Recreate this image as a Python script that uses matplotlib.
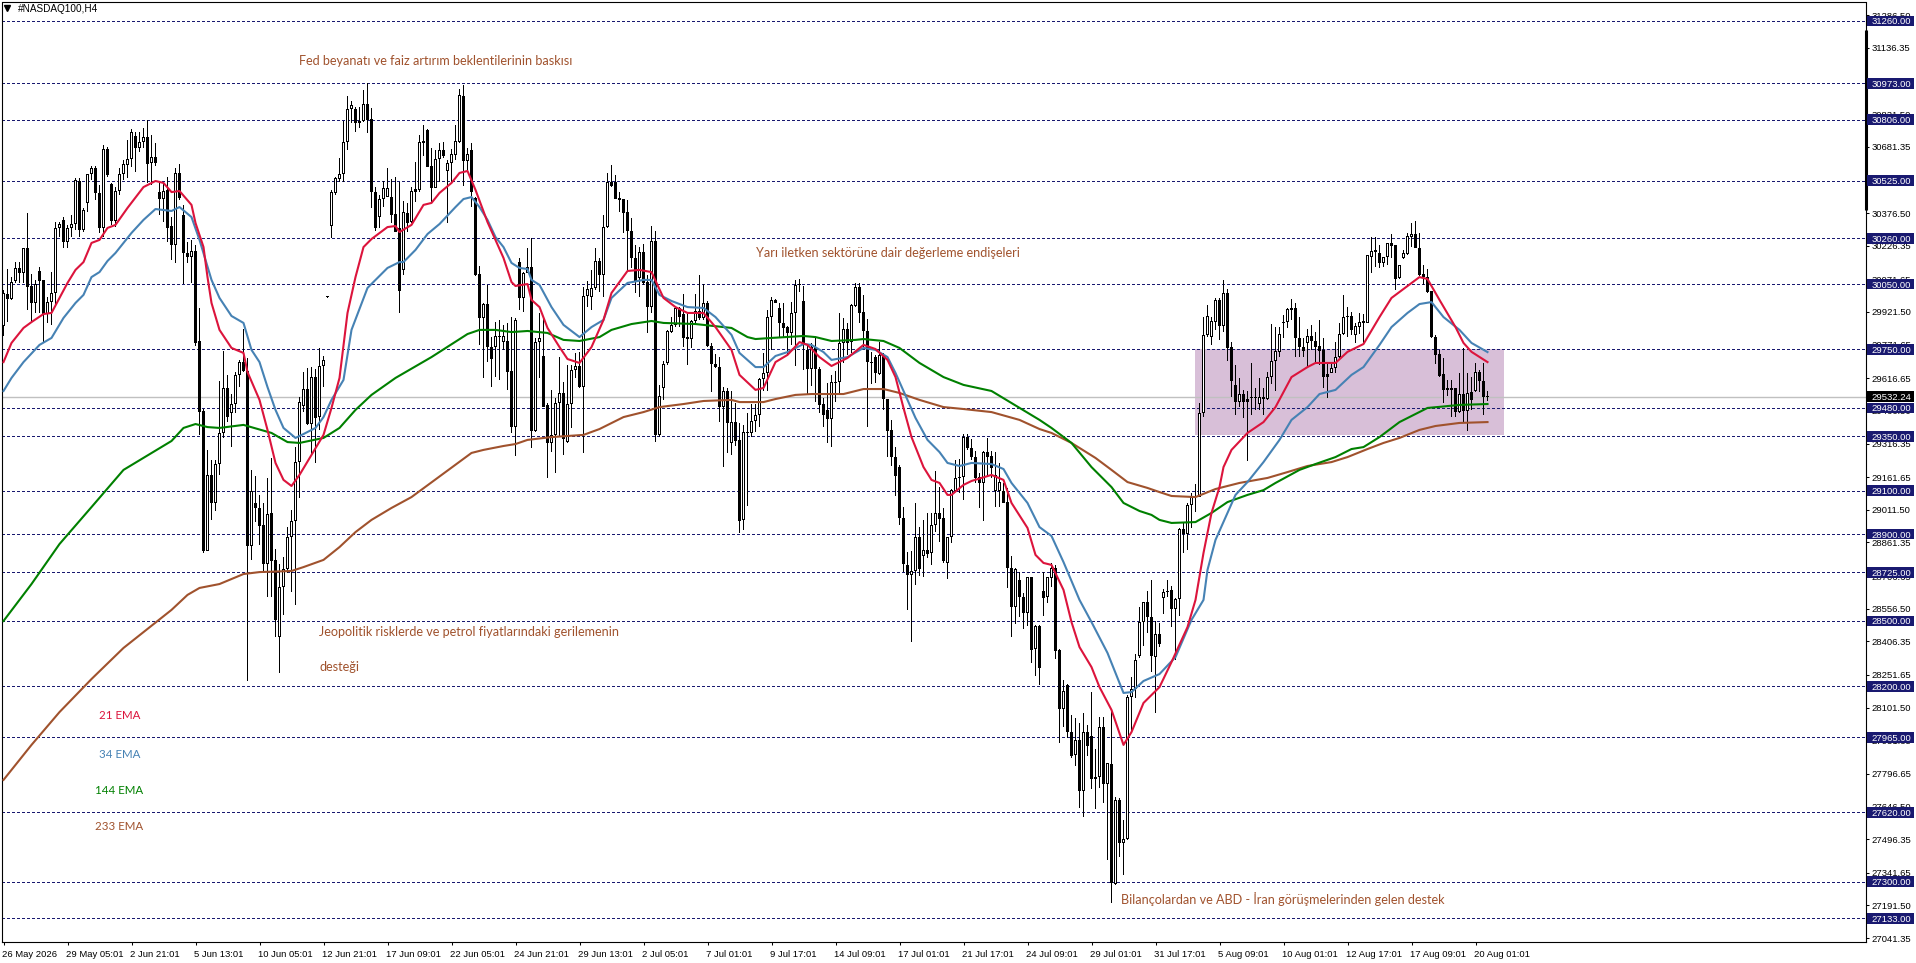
import matplotlib
matplotlib.use('Agg')
import matplotlib.pyplot as plt
from matplotlib.patches import Rectangle
from matplotlib.transforms import ScaledTranslation
import numpy as np

# mumlar (H4), soldan saga
opens = [29855,30004,29983,30066,30122,30102,30214,30041,29961,30109,
30069,29912,29969,30007,30306,30345,30245,30306,30326,30526,
30299,30421,30555,30582,30467,30306,30671,30510,30342,30477,
30555,30596,30624,30731,30674,30702,30725,30605,30633,30473,
30441,30483,30317,30231,30559,30368,30195,30176,30204,29788,
29466,28824,29170,29044,29221,29363,29570,29458,29498,29630,
29690,29652,28845,29041,29021,28940,28762,28995,28781,28425,
28655,28738,28885,28959,29230,29491,29566,29406,29622,29437,
29673,29990,30319,30470,30535,30555,30702,30854,30855,30789,
30802,30878,30808,30475,30357,30440,30452,30452,30371,30306,
30115,30378,30337,30475,30483,30700,30759,30593,30493,30624,
30667,30572,30608,30644,30705,30915,30618,30667,30447,30096,
29892,29958,29762,29762,29811,29785,29788,29650,29394,30153,
29987,30099,30130,29376,29782,29719,29494,29321,29354,29501,
29547,29325,29497,29655,29673,29575,29995,29989,30030,30156,
30090,30311,30521,30521,30444,30440,30380,30294,30168,30076,
30199,30061,29946,30248,29356,29570,29686,29831,29862,29938,
29912,29805,29796,29882,29928,29892,29961,29767,29681,29670,
29483,29558,29320,29414,29333,28965,29371,29366,29419,29446,
29612,29639,29897,29975,29938,29869,29851,29826,29915,30050,
29970,29747,29658,29762,29658,29497,29471,29428,29598,29598,
29777,29842,29785,29951,30035,29921,29836,29690,29713,29636,
29722,29520,29379,29253,29207,28972,28758,28712,28732,28885,
28801,28827,28812,28942,28995,28972,28766,28885,29100,29156,
29164,29348,29294,29256,29161,29133,29276,29261,29100,29100,
29100,29046,28742,28566,28689,28609,28535,28701,28370,28477,
28637,28609,28698,28742,28367,28094,28206,27991,27884,27953,
27720,27988,27971,27781,27781,28011,27749,27841,27290,27677,
27478,27499,28152,28186,28339,28494,28589,28520,28336,28440,
28604,28638,28643,28554,28601,28922,28900,29032,29069,29072,
29455,29816,29805,29877,29977,29859,30007,29759,29584,29509,
29543,29509,29529,29529,29497,29529,29523,29621,29696,29739,
29872,29875,29938,29938,29800,29759,29780,29813,29788,29765,
29747,29624,29642,29662,29716,29820,29903,29903,29816,29854,
29880,29872,30176,30207,30194,30148,30173,30237,30230,30076,
30168,30188,30268,30280,30216,30095,30084,30018,29808,29728,
29636,29570,29570,29570,29460,29543,29468,29555,29558,29647,29606,29535]

highs = [30023,30118,30084,30153,30153,30214,30375,30095,30069,30130,
30069,29992,30107,30337,30337,30360,30322,30368,30536,30536,
30398,30555,30593,30593,30506,30690,30682,30516,30498,30582,
30621,30713,30763,30751,30751,30766,30805,30736,30697,30521,
30521,30541,30360,30582,30602,30414,30245,30253,30230,29938,
29474,29287,29241,29241,29604,29742,29632,29543,29647,29701,
29843,29708,29195,29167,29080,29041,29159,29248,28831,28761,
28796,28934,29011,29302,29532,29647,29662,29667,29658,29754,
29719,29992,30483,30544,30628,30802,30915,30892,30866,30863,
30943,30973,30858,30495,30460,30526,30582,30532,30541,30521,
30434,30424,30495,30613,30736,30782,30762,30674,30667,30697,
30705,30621,30670,30782,30946,30966,30674,30699,30452,30133,
29964,30046,29808,29877,29885,29862,29869,29900,29892,30168,
30107,30214,30260,29800,29915,29892,29501,29563,29524,29713,
29601,29678,29678,29731,29739,30035,30066,30115,30214,30168,
30368,30559,30598,30552,30475,30440,30437,30352,30230,30222,
30233,30092,30317,30294,29586,29696,29839,29897,29946,29946,
30004,29915,29885,30004,30092,30049,29974,29778,29728,29713,
29578,29570,29558,29501,29409,29402,29455,29498,29498,29616,
29731,29931,29992,29980,29961,29964,29857,29969,30069,30072,
30041,29765,29777,29800,29670,29524,29593,29632,29650,29915,
29892,29872,29958,30056,30056,29999,29888,29739,29724,29785,
29731,29520,29425,29302,29218,29023,28819,28822,29041,28934,
28965,28995,28995,29192,29118,29018,28888,29106,29241,29244,
29360,29360,29337,29284,29179,29284,29340,29284,29279,29225,
29133,29110,28799,28742,28727,28627,28704,28704,28482,28482,
28727,28704,28765,28758,28370,28229,28209,28068,28052,28029,
28075,28022,28172,27910,28060,28060,27848,28094,27692,27684,
27585,28160,28244,28348,28566,28589,28638,28689,28502,28489,
28646,28689,28661,28604,28930,28957,29041,29087,29130,29501,
29900,29954,29900,29984,29987,30069,30026,29785,29678,29616,
29563,29560,29685,29570,29616,29570,29647,29865,29854,29854,
29908,29938,29980,29961,29897,29800,29843,29862,29831,29885,
29800,29685,29682,29785,29869,30000,29943,29923,29872,29918,
29912,30184,30265,30268,30230,30176,30237,30280,30230,30138,
30207,30283,30332,30340,30283,30138,30118,30018,29816,29747,
29708,29609,29609,29570,29639,29754,29639,29624,29685,29655,29685,29558]

lows = [29811,29877,29977,30053,30053,30053,29931,29877,29915,29915,
29785,29869,29862,29946,30268,30214,30214,30268,30299,30268,
30291,30383,30529,30437,30286,30268,30544,30322,30314,30460,
30529,30536,30590,30567,30659,30674,30513,30506,30593,30368,
30337,30245,30161,30149,30437,30050,30145,30053,29765,29356,
28815,28824,28965,29008,29172,29340,29417,29302,29458,29578,
29647,28226,28781,28957,28850,28719,28609,28612,28428,28263,
28528,28719,28635,28574,29064,29463,29402,29264,29228,29379,
29578,29988,30260,30460,30521,30521,30667,30789,30751,30766,
30797,30743,30401,30296,30306,30406,30452,30329,30291,29919,
30092,30291,30329,30429,30475,30639,30587,30429,30490,30521,
30628,30332,30521,30621,30697,30501,30572,30404,30087,29770,
29616,29693,29575,29624,29609,29747,29563,29364,29259,29931,
29923,30099,29295,29371,29616,29483,29160,29279,29180,29348,
29264,29318,29387,29616,29570,29272,29946,29931,30023,30015,
29992,30306,30498,30440,30383,30283,30107,30122,30007,29992,
30046,29823,29915,29325,29345,29517,29678,29823,29854,29854,
29762,29678,29754,29862,29885,29885,29762,29555,29662,29417,
29210,29272,29264,29305,28907,28919,29029,29345,29371,29394,
29560,29560,29747,29961,29805,29808,29724,29770,29673,30015,
29655,29540,29581,29509,29458,29394,29320,29299,29509,29547,
29685,29724,29731,29943,29869,29762,29394,29589,29593,29632,
29471,29256,29213,29075,28942,28724,28551,28405,28666,28707,
28704,28788,28758,28911,28865,28766,28693,28857,29095,29087,
29057,29287,29241,29133,29018,28962,29164,29156,29023,29026,
29041,28653,28428,28486,28520,28462,28479,28305,28247,28206,
28523,28581,28658,28324,27938,28014,27961,27868,27833,27638,
27600,27881,27726,27634,27730,27661,27401,27205,27286,27416,
27332,27493,27991,28144,28328,28385,28446,28267,28075,28382,
28532,28612,28474,28321,28523,28812,28827,28926,29003,29069,
29440,29805,29770,29839,29793,29831,29696,29529,29448,29483,
29435,29236,29448,29471,29471,29448,29517,29590,29560,29716,
29800,29846,29885,29716,29716,29716,29670,29747,29688,29678,
29570,29527,29639,29642,29708,29816,29808,29816,29777,29820,
29777,29869,30099,30130,30122,30127,30138,30168,30023,30072,
30164,30184,30222,30214,30087,30046,30010,29800,29682,29624,
29501,29535,29440,29440,29455,29409,29376,29471,29555,29555,29448,29514]

closes = [30007,29983,30060,30122,30102,30214,30038,29961,30049,30066,
29912,29969,30007,30306,30326,30245,30306,30326,30529,30299,
30391,30555,30582,30467,30306,30671,30552,30342,30477,30555,
30602,30624,30748,30674,30702,30725,30602,30633,30608,30441,
30480,30309,30231,30562,30444,30191,30176,30201,29778,29463,
28824,29170,29041,29221,29363,29570,29440,29498,29630,29690,
29652,28845,29100,29021,28939,28762,28991,28778,28505,28655,
28738,28885,28959,29230,29506,29566,29406,29622,29432,29673,
29701,29990,30473,30536,30555,30702,30854,30874,30789,30802,
30878,30805,30475,30306,30440,30490,30490,30368,30291,30020,
30380,30329,30478,30486,30702,30710,30590,30493,30624,30667,
30639,30608,30648,30708,30920,30618,30648,30473,30092,29892,
29958,29762,29705,29811,29808,29811,29647,29394,29885,29987,
30099,30130,29376,29782,29800,29486,29321,29354,29501,29547,
29336,29497,29655,29673,29575,29995,30026,30030,30156,30090,
30311,30518,30503,30443,30438,30378,30292,30168,30061,30199,
30053,29946,30248,29356,29537,29682,29834,29862,29938,29900,
29804,29796,29882,29928,29892,29961,29767,29681,29670,29483,
29558,29413,29414,29330,28962,29368,29366,29419,29446,29612,
29639,29897,29975,29964,29869,29848,29826,29915,30044,30044,
29774,29658,29759,29658,29494,29448,29428,29598,29596,29777,
29842,29777,29954,30035,29918,29836,29690,29688,29639,29722,
29520,29376,29253,29169,28975,28761,28712,28732,28885,28740,
28827,28808,28942,28995,28971,28778,28885,29103,29156,29164,
29348,29294,29256,29156,29133,29276,29256,29205,29172,29138,
29041,28745,28566,28738,28612,28535,28701,28367,28477,28286,
28604,28701,28742,28364,28094,28180,27991,27881,27953,27720,
27988,27927,27773,27773,28011,27749,27845,27297,27677,27481,
27499,28152,28186,28321,28494,28589,28520,28339,28440,28393,
28635,28633,28554,28600,28923,28900,29032,29069,29072,29455,
29816,29903,29880,29977,29859,30007,29757,29606,29509,29543,
29509,29520,29524,29526,29529,29523,29621,29696,29742,29820,
29875,29934,29931,29803,29759,29742,29813,29788,29762,29744,
29624,29635,29662,29716,29820,29897,29897,29839,29857,29877,
29872,30182,30200,30199,30145,30173,30237,30227,30073,30138,
30191,30271,30280,30216,30092,30084,30015,29805,29724,29627,
29563,29563,29563,29460,29543,29466,29550,29517,29647,29604,29532,29532.24]

# hareketli ortalamalar (bar numarasi, fiyat)
ema21_bar = [0,2,5,7,10,12,14,16,18,20,22,24,26,28,31,35,38,40,42,44,47,48,50,51,52,54,57,60,61,64,66,68,70,72,74,77,80,82,84,86,88,90,92,96,98,99,102,105,107,109,112,114,116,118,121,123,125,127,128,131,132,134,136,139,141,144,147,150,152,156,159,162,165,168,171,175,178,182,184,188,190,193,196,199,201,204,207,211,215,218,221,223,225,227,230,232,234,236,237,240,242,247,250,252,256,258,260,262,265,267,269,272,274,277,280,282,285,289,292,296,298,300,302,304,305,307,311,315,318,322,326,328,333,336,340,344,347,352,354,356,359,363,365,367,371]
ema21 = [29691,29779,29848,29875,29912,29917,29986,30055,30115,30151,30239,30253,30308,30322,30400,30496,30524,30515,30473,30478,30414,30331,30220,30082,29963,29839,29756,29733,29645,29517,29379,29227,29149,29121,29172,29264,29356,29480,29618,29917,30082,30220,30257,30312,30317,30289,30322,30414,30423,30469,30515,30561,30570,30483,30335,30253,30170,30059,30041,30050,29977,29944,29848,29760,29705,29687,29760,29885,30009,30110,30115,30105,29986,29944,29917,29917,29852,29747,29632,29563,29572,29691,29724,29783,29770,29714,29673,29710,29770,29751,29701,29622,29480,29346,29208,29149,29135,29080,29080,29126,29144,29172,29149,29043,28928,28804,28767,28758,28643,28495,28380,28288,28196,28091,27930,27989,28123,28196,28311,28472,28597,28813,28997,29116,29208,29287,29365,29415,29484,29622,29668,29687,29687,29738,29774,29898,29986,30055,30082,30073,29977,29852,29779,29738,29691]

ema34_bar = [0,2,5,9,12,15,18,20,22,24,26,28,32,35,38,42,44,47,49,52,54,57,60,62,64,66,68,70,73,75,78,80,82,85,87,91,93,96,99,100,103,106,109,113,115,117,119,121,123,125,127,129,131,132,134,137,140,144,147,150,152,156,160,162,164,167,171,175,178,182,184,188,190,193,196,200,202,205,207,211,215,218,221,223,226,228,231,234,236,239,242,247,250,252,256,259,262,265,269,272,276,280,282,285,289,293,297,300,301,303,306,308,311,315,319,322,326,329,333,337,340,344,347,351,354,357,360,364,367,371]
ema34 = [29558,29618,29691,29770,29802,29894,29963,30000,30082,30105,30156,30193,30285,30345,30395,30386,30404,30358,30253,30069,29986,29903,29871,29747,29691,29576,29471,29388,29342,29360,29388,29438,29517,29609,29839,30032,30069,30124,30151,30151,30207,30280,30326,30404,30441,30450,30404,30345,30266,30220,30147,30124,30119,30069,30046,29944,29862,29806,29852,29885,29986,30055,30069,30069,30000,29972,29944,29940,29898,29816,29733,29668,29668,29719,29737,29774,29770,29737,29701,29714,29756,29747,29714,29641,29517,29434,29333,29277,29227,29213,29227,29222,29199,29135,29043,28932,28891,28771,28597,28495,28353,28169,28173,28224,28256,28334,28505,28597,28735,28873,28997,29080,29139,29231,29333,29425,29484,29544,29563,29632,29668,29770,29852,29917,29958,29967,29898,29839,29779,29737]

ema144_bar = [0,7,14,22,30,42,45,48,51,54,60,67,71,74,80,84,88,92,98,107,116,119,123,127,131,136,140,144,149,152,157,162,165,173,182,186,188,192,200,203,207,213,215,220,224,229,235,240,247,259,262,267,272,277,280,284,287,289,292,298,302,306,311,315,318,324,328,333,337,340,344,349,356,359,364,371]
ema144 = [28500,28670,28854,29024,29195,29328,29388,29406,29392,29388,29402,29365,29323,29319,29342,29388,29471,29540,29618,29714,29820,29839,29839,29829,29834,29825,29793,29788,29806,29839,29866,29880,29871,29866,29848,29806,29797,29802,29811,29806,29788,29793,29797,29788,29756,29687,29622,29586,29558,29425,29388,29319,29208,29116,29043,29006,28988,28965,28951,28955,28997,29047,29080,29102,29135,29195,29222,29254,29291,29300,29346,29415,29480,29485,29494,29498]

ema233_bar = [0,7,14,22,30,42,46,49,54,60,64,72,75,80,84,88,92,97,102,117,120,125,128,131,137,145,149,155,160,164,170,175,182,184,190,193,198,202,210,215,220,224,229,235,240,247,254,259,262,267,273,277,281,286,289,292,298,303,309,316,321,326,332,336,341,345,349,354,358,364,371]
ema233 = [27769,27930,28081,28233,28376,28551,28620,28652,28670,28716,28725,28730,28748,28781,28840,28909,28965,29020,29070,29273,29287,29305,29314,29333,29346,29356,29383,29438,29461,29484,29498,29512,29517,29507,29507,29521,29540,29544,29544,29567,29567,29549,29517,29484,29475,29461,29425,29383,29365,29319,29250,29195,29139,29112,29093,29075,29070,29107,29135,29158,29185,29213,29231,29254,29291,29319,29342,29379,29397,29411,29415]

levels = [31260,30973,30806,30525,30260,30050,29750,29480,29350,29100,28900,28725,28500,28200,27965,27620,27300,27133]
last_price = 29532.24

y_ticks = [31286.50,31136.35,30981.50,30831.50,30681.35,30526.50,30376.50,30226.35,30071.65,29921.50,29771.65,29616.65,29466.50,29316.35,29161.65,29011.50,28861.35,28706.65,28556.50,28406.35,28251.65,28101.50,27951.35,27796.65,27646.50,27496.35,27341.65,27191.50,27041.35]
x_labels = ['26 May 2026','29 May 05:01','2 Jun 21:01','5 Jun 13:01','10 Jun 05:01','12 Jun 21:01','17 Jun 09:01','22 Jun 05:01','24 Jun 21:01','29 Jun 13:01','2 Jul 05:01','7 Jul 01:01','9 Jul 17:01','14 Jul 09:01','17 Jul 01:01','21 Jul 17:01','24 Jul 09:01','29 Jul 01:01','31 Jul 17:01','5 Aug 09:01','10 Aug 01:01','12 Aug 17:01','17 Aug 09:01','20 Aug 01:01']

W, H = 1916, 963
NAVY = '#191970'
SIENNA = '#a0522d'
AX_FONT = 'Liberation Sans'
NOTE_FONT = 'Lato'
PRICE_PER_PX = 4.6

opens = np.array(opens, dtype=float)
highs = np.array(highs, dtype=float)
lows = np.array(lows, dtype=float)
closes = np.array(closes, dtype=float)
bars = np.arange(len(opens))

fig = plt.figure(figsize=(W / 100, H / 100), dpi=100, facecolor='white')
left, right, top, bottom = 2, 1865.5, 2.5, 942
ax = fig.add_axes([left / W, 1 - bottom / H, (right - left) / W, (bottom - top) / H])
ax.set_xlim(-0.375, 465.5)
ax.set_ylim(27023.4, 31345)

# destek direnc kutusu ve son fiyat cizgisi
ax.add_patch(Rectangle((297.9, 29356), 77.1, 394, facecolor='#d8bfd8', edgecolor='none', zorder=0.5))
ax.axhline(last_price, color='#c0c0c0', lw=1, zorder=1)

for lv in levels:
    ax.axhline(lv, color=NAVY, lw=0.72, dashes=(2.4, 2.8), antialiased=False, zorder=1.5)

# mumlar: fitil 1 px, govde 3 px, beyaz mumun ici 1 px
body_top = np.maximum(opens, closes)
body_low = np.minimum(opens, closes)
body_h = np.maximum(body_top - body_low, PRICE_PER_PX)
ax.bar(bars, highs - lows, bottom=lows, width=0.25, color='black', linewidth=0, antialiased=False, zorder=3)
ax.bar(bars, body_h, bottom=body_low, width=0.75, color='black', linewidth=0, antialiased=False, zorder=4)
hollow = (closes > opens) & (body_h > 2.5 * PRICE_PER_PX)
ax.bar(bars[hollow], body_h[hollow] - 2 * PRICE_PER_PX, bottom=body_low[hollow] + PRICE_PER_PX, width=0.25,
       color='white', linewidth=0, antialiased=False, zorder=4.5)

ax.plot(ema233_bar, ema233, color=SIENNA, lw=1.5, zorder=5)
ax.plot(ema144_bar, ema144, color='#008000', lw=1.5, zorder=5)
ax.plot(ema34_bar, ema34, color='#4682b4', lw=1.5, zorder=5)
ax.plot(ema21_bar, ema21, color='#dc143c', lw=1.5, zorder=5)

# sag kenardaki kalin cubuk
ax.plot([1, 1], [30390, 31219], transform=ax.get_yaxis_transform(), color='black', lw=2.2,
        solid_capstyle='butt', clip_on=False, zorder=6)

for s in ax.spines.values():
    s.set_linewidth(0.8)

ax.yaxis.tick_right()
ax.set_yticks(y_ticks)
ax.set_yticklabels(['%.2f' % t for t in y_ticks], fontsize=6.8, family=AX_FONT)
ax.tick_params(axis='y', length=2.5, width=0.75, pad=2)
ax.set_xticks(np.arange(len(x_labels)) * 16)
ax.set_xticklabels(x_labels, fontsize=6.8, family=AX_FONT, ha='left')
ax.tick_params(axis='x', length=2.5, width=0.75, pad=3)
shift = ScaledTranslation(-1.5 / 100, 0, fig.dpi_scale_trans)
for lab in ax.get_xticklabels():
    lab.set_transform(lab.get_transform() + shift)

# fiyat etiketleri
ax_w = right - left
def price_tag(price, text, bg):
    ax.add_patch(Rectangle((1 + 2 / ax_w, price - 25), 46 / ax_w, 50, transform=ax.get_yaxis_transform(),
                           facecolor=bg, edgecolor='none', clip_on=False, zorder=10))
    ax.text(1 + 6 / ax_w, price, text, transform=ax.get_yaxis_transform(), color='white', fontsize=6.8,
            family=AX_FONT, va='center_baseline', ha='left', zorder=11, clip_on=False)

for lv in levels:
    price_tag(lv, '%.2f' % lv, NAVY)
price_tag(last_price, '%.2f' % last_price, 'black')

def note(x, y, text, color, size=9.05):
    fig.text(x / W, 1 - y / H, text, color=color, fontsize=size, family=NOTE_FONT, va='center', ha='left', zorder=12)

note(299, 61, 'Fed beyanatı ve faiz artırım beklentilerinin baskısı', SIENNA)
note(756, 253, 'Yarı iletken sektörüne dair değerleme endişeleri', SIENNA)
note(319, 632, 'Jeopolitik risklerde ve petrol fiyatlarındaki gerilemenin', SIENNA)
note(319, 667, 'desteği', SIENNA)
note(1121, 899, 'Bilançolardan ve ABD - İran görüşmelerinden gelen destek', SIENNA)
note(99, 715, '21 EMA', '#dc143c', 8.3)
note(99, 754, '34 EMA', '#4682b4', 8.3)
note(95, 790, '144 EMA', '#008000', 8.3)
note(95, 826, '233 EMA', SIENNA, 8.3)

# sol ust baslik
ax.plot([5 / ax_w], [1 - 5.5 / (bottom - top)], marker='v', color='black', ms=4, transform=ax.transAxes, zorder=12)
fig.text(18 / W, 1 - 8.5 / H, '#NASDAQ100,H4', fontsize=7.2, family=AX_FONT, va='center', ha='left', color='black')

fig.savefig('out.png', dpi=100)
